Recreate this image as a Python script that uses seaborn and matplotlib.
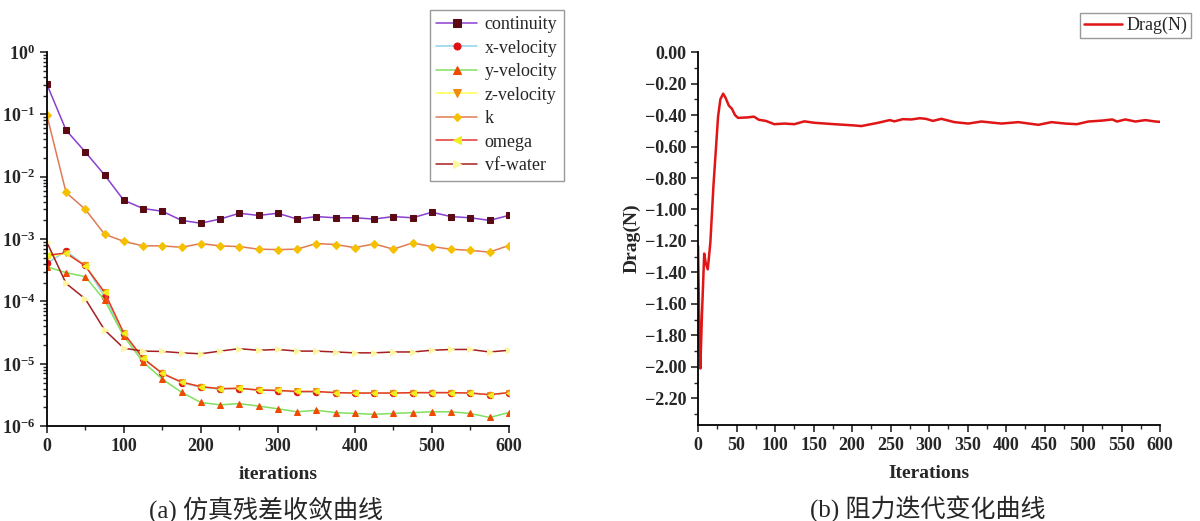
import numpy as np
import pandas as pd
import matplotlib
matplotlib.use("Agg")
import matplotlib.pyplot as plt
import seaborn as sns
from matplotlib.ticker import LogLocator, FuncFormatter, MultipleLocator, NullFormatter

sns.set_style("ticks")
plt.rcParams["font.family"] = ["Liberation Serif", "Noto Sans CJK SC"]
plt.rcParams["mathtext.fontset"] = "custom"
plt.rcParams["mathtext.bf"] = "Liberation Serif:bold"
plt.rcParams["mathtext.rm"] = "Liberation Serif"


# residual data (values read every 25 iterations)
iters = np.arange(0, 601, 25)

continuity = [0.307, 0.056, 0.025, 0.0107, 0.0042, 0.0031, 0.0028, 0.0020, 0.0018, 0.0021,
              0.0026, 0.0024, 0.0026, 0.0021, 0.0023, 0.0022, 0.0022, 0.0021, 0.0023, 0.0022,
              0.0027, 0.0023, 0.0022, 0.0020, 0.0024]
x_velocity = [4.1e-4, 6.4e-4, 3.8e-4, 1.2e-4, 3.0e-5, 1.2e-5, 7.0e-6, 5.0e-6, 4.2e-6, 3.95e-6,
              4.0e-6, 3.8e-6, 3.7e-6, 3.55e-6, 3.55e-6, 3.45e-6, 3.4e-6, 3.4e-6, 3.4e-6, 3.45e-6,
              3.45e-6, 3.45e-6, 3.4e-6, 3.2e-6, 3.45e-6]
y_velocity = [3.6e-4, 2.9e-4, 2.5e-4, 1.05e-4, 2.76e-5, 1.07e-5, 5.7e-6, 3.5e-6, 2.4e-6, 2.2e-6,
              2.3e-6, 2.1e-6, 1.9e-6, 1.7e-6, 1.8e-6, 1.65e-6, 1.6e-6, 1.55e-6, 1.6e-6, 1.65e-6,
              1.7e-6, 1.7e-6, 1.6e-6, 1.38e-6, 1.65e-6]
z_velocity = [5.2e-4, 5.9e-4, 3.8e-4, 1.4e-4, 3.1e-5, 1.23e-5, 7.1e-6, 5.1e-6, 4.3e-6, 4.0e-6,
              4.05e-6, 3.8e-6, 3.75e-6, 3.6e-6, 3.6e-6, 3.45e-6, 3.4e-6, 3.4e-6, 3.4e-6, 3.45e-6,
              3.45e-6, 3.45e-6, 3.4e-6, 3.2e-6, 3.45e-6]
k_res = [0.098, 0.0056, 0.0030, 0.0012, 0.00092, 0.00078, 0.00078, 0.00074, 0.00085, 0.00078,
         0.00076, 0.00069, 0.00068, 0.00069, 0.00085, 0.00082, 0.00073, 0.00084, 0.00069, 0.00087,
         0.00076, 0.00069, 0.00066, 0.00062, 0.00079]
omega = [5.5e-4, 6.0e-4, 3.7e-4, 1.4e-4, 3.1e-5, 1.23e-5, 7.0e-6, 5.1e-6, 4.3e-6, 4.0e-6,
         4.05e-6, 3.8e-6, 3.75e-6, 3.6e-6, 3.6e-6, 3.45e-6, 3.4e-6, 3.4e-6, 3.4e-6, 3.45e-6,
         3.45e-6, 3.45e-6, 3.4e-6, 3.2e-6, 3.45e-6]
vf_water = [9.0e-4, 1.95e-4, 1.1e-4, 3.5e-5, 1.78e-5, 1.6e-5, 1.58e-5, 1.5e-5, 1.45e-5, 1.6e-5,
            1.75e-5, 1.65e-5, 1.7e-5, 1.6e-5, 1.6e-5, 1.55e-5, 1.5e-5, 1.5e-5, 1.55e-5, 1.55e-5,
            1.65e-5, 1.7e-5, 1.7e-5, 1.55e-5, 1.65e-5]

# drag history
drag_iter = [0, 1.7, 3, 5, 8, 10, 12.6, 16, 20, 26, 29, 32.6, 35.7, 40, 44, 48, 52, 64, 72.6, 79,
             88, 99, 112, 125, 138, 151, 177, 203, 212, 233, 249, 255, 266, 277, 288, 296, 305,
             316, 333, 351, 368, 394, 416, 442, 459, 477, 492, 507, 525, 538, 544, 555, 568,
             581, 594, 600]
drag_val = [-1.23, -1.78, -2.01, -1.68, -1.28, -1.34, -1.38, -1.21, -0.85, -0.41, -0.30, -0.264,
            -0.29, -0.34, -0.36, -0.40, -0.418, -0.415, -0.41, -0.43, -0.437, -0.458, -0.454,
            -0.458, -0.44, -0.449, -0.458, -0.466, -0.47, -0.45, -0.432, -0.44, -0.426, -0.428,
            -0.42, -0.424, -0.437, -0.424, -0.445, -0.454, -0.441, -0.454, -0.445, -0.462,
            -0.445, -0.454, -0.458, -0.441, -0.435, -0.428, -0.441, -0.428, -0.441, -0.432,
            -0.441, -0.443]

series = [
    ("continuity", continuity, "#8a3fd0", "s", "#5a0a12"),
    ("x-velocity", x_velocity, "#8fd3ea", "o", "#e01010"),
    ("y-velocity", y_velocity, "#80e060", "^", "#f04a00"),
    ("z-velocity", z_velocity, "#ffff50", "v", "#f08a10"),
    ("k", k_res, "#e07a55", "D", "#f5c000"),
    ("omega", omega, "#e53535", "<", "#f0ee20"),
    ("vf-water", vf_water, "#a52020", ">", "#fff6a0"),
]

fig = plt.figure(figsize=(12, 5.21), dpi=100)
ax1 = fig.add_axes([0.039, 0.182, 0.385, 0.718])
ax2 = fig.add_axes([0.5817, 0.184, 0.385, 0.716])

# 1. residuals
for name, vals, lc, mk, mc in series:
    df = pd.DataFrame({"iter": iters, "res": vals})
    ms = 4.0 if mk == "D" else 4.6
    sns.lineplot(data=df, x="iter", y="res", ax=ax1, color=lc, linewidth=1.1, label=name,
                 marker=mk, markersize=ms, markerfacecolor=mc, markeredgecolor=mc)

ax1.set_yscale("log")
ax1.set_ylim(1e-6, 1e0)
ax1.set_xlim(0, 600)
ax1.xaxis.set_major_locator(MultipleLocator(100))
ax1.xaxis.set_minor_locator(MultipleLocator(50))
ax1.yaxis.set_major_locator(LogLocator(base=10, numticks=10))
ax1.yaxis.set_minor_locator(LogLocator(base=10, subs=np.arange(2, 10), numticks=20))
ax1.yaxis.set_minor_formatter(NullFormatter())
ax1.yaxis.set_major_formatter(FuncFormatter(lambda v, p: r"$\mathbf{10^{%d}}$" % round(np.log10(v))))
ax1.set_xlabel("iterations", fontsize=14, fontweight="bold", labelpad=8)
ax1.set_ylabel("")
ax1.legend(loc="upper left", bbox_to_anchor=(0.358, 0.981), bbox_transform=fig.transFigure,
           borderaxespad=0, fontsize=13, frameon=True, fancybox=False, edgecolor="#808080",
           handlelength=2.3, borderpad=0.35, labelspacing=0.36, handletextpad=0.4,
           markerscale=1.1)

# 2. drag
drag_df = pd.DataFrame({"Iterations": drag_iter, "Drag(N)": drag_val})
sns.lineplot(data=drag_df, x="Iterations", y="Drag(N)", ax=ax2, color="#e01515",
             linewidth=1.8, label="Drag(N)")
ax2.set_xlim(0, 600)
ax2.set_ylim(-2.37, 0)
ax2.xaxis.set_major_locator(MultipleLocator(50))
ax2.xaxis.set_minor_locator(MultipleLocator(25))
ax2.yaxis.set_major_locator(MultipleLocator(0.2))
ax2.yaxis.set_minor_locator(MultipleLocator(0.1))
ax2.yaxis.set_major_formatter(FuncFormatter(lambda v, p: f"{v:.2f}".replace("-", "\u2212") if abs(v) > 1e-9 else "0.00"))
ax2.set_xlabel("Iterations", fontsize=14, fontweight="bold", labelpad=8)
ax2.set_ylabel("Drag(N)", fontsize=14, fontweight="bold", labelpad=3)
ax2.legend(loc="upper left", bbox_to_anchor=(0.9, 0.975), bbox_transform=fig.transFigure,
           borderaxespad=0, fontsize=13, frameon=True, fancybox=False, edgecolor="#808080",
           handlelength=2.1, borderpad=0.2, handletextpad=0.3)

for ax in (ax1, ax2):
    sns.despine(ax=ax)
    for lbl in ax.get_xticklabels() + ax.get_yticklabels():
        lbl.set_fontsize(13)
        lbl.set_fontweight("bold")
    ax.tick_params(which="major", direction="out", length=5, width=1.2)
    ax.tick_params(which="minor", direction="out", length=3, width=1)
    for sp in ("left", "bottom"):
        ax.spines[sp].set_linewidth(1.3)
        ax.spines[sp].set_color("black")

fig.text(0.222, 0.006, "(a) 仿真残差收敛曲线", fontsize=18, ha="center",
         family=["Liberation Serif", "Noto Sans CJK SC"])
fig.text(0.773, 0.006, "(b) 阻力迭代变化曲线", fontsize=18, ha="center",
         family=["Liberation Serif", "Noto Sans CJK SC"])

fig.savefig("out.png", dpi=100)
